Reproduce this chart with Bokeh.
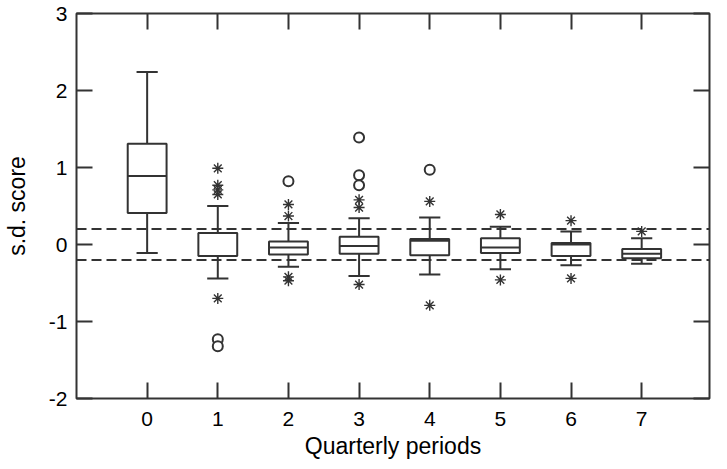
from bokeh.plotting import figure
from bokeh.models import LinearAxis, FixedTicker, Span, ColumnDataSource, Range1d, CustomJSTickFormatter
from bokeh.embed import file_html
from bokeh.resources import INLINE

# ---- data ----
periods = [0, 1, 2, 3, 4, 5, 6, 7]
lower_whisker = [-0.11, -0.44, -0.29, -0.41, -0.39, -0.32, -0.27, -0.25]
q1 = [0.41, -0.15, -0.13, -0.12, -0.14, -0.11, -0.15, -0.18]
median = [0.89, 0.15, -0.04, -0.02, 0.05, -0.04, 0.00, -0.12]
q3 = [1.31, 0.15, 0.04, 0.10, 0.07, 0.08, 0.02, -0.06]
upper_whisker = [2.24, 0.50, 0.28, 0.34, 0.35, 0.23, 0.17, 0.08]

star_period = [1, 1, 1, 1, 1, 2, 2, 2, 2, 3, 3, 3, 4, 4, 5, 5, 6, 6, 7]
star_value = [0.99, 0.77, 0.71, 0.65, -0.70, 0.52, 0.37, -0.42, -0.47,
              0.58, 0.48, -0.52, 0.56, -0.79, 0.39, -0.46, 0.31, -0.44, 0.17]
circle_period = [1, 1, 2, 3, 3, 3, 4]
circle_value = [-1.23, -1.32, 0.82, 1.39, 0.90, 0.77, 0.97]

reference_lines = [0.2, -0.2]
x_ticks = [0, 1, 2, 3, 4, 5, 6, 7]
y_ticks = [-2, -1, 0, 1, 2, 3]

BOX_W = 0.55
CAP_W = 0.3
INK = "#333333"
FONT = "Liberation Sans"

p = figure(width=711, height=461, output_backend="svg", toolbar_location=None,
           x_range=Range1d(-1.0, 7.96), y_range=Range1d(-2, 3),
           min_border_left=73, min_border_right=2, min_border_top=13, min_border_bottom=10)
p.background_fill_color = "white"
p.border_fill_color = "white"
p.outline_line_color = INK
p.outline_line_width = 2
p.grid.visible = False

src = ColumnDataSource(dict(
    x=periods, lw=lower_whisker, q1=q1, med=median, q3=q3, uw=upper_whisker,
    xl=[v - BOX_W / 2 for v in periods], xr=[v + BOX_W / 2 for v in periods],
    cl=[v - CAP_W / 2 for v in periods], cr=[v + CAP_W / 2 for v in periods],
))

for y in reference_lines:
    p.add_layout(Span(location=y, dimension="width", line_color=INK,
                      line_width=2, line_dash="10 5"))

# whiskers
p.segment(x0="x", y0="q3", x1="x", y1="uw", source=src, line_color=INK, line_width=2)
p.segment(x0="x", y0="q1", x1="x", y1="lw", source=src, line_color=INK, line_width=2)
p.segment(x0="cl", y0="uw", x1="cr", y1="uw", source=src, line_color=INK, line_width=2)
p.segment(x0="cl", y0="lw", x1="cr", y1="lw", source=src, line_color=INK, line_width=2)
# boxes
p.vbar(x="x", width=BOX_W, bottom="q1", top="q3", source=src,
       fill_color="white", line_color=INK, line_width=2)
p.segment(x0="xl", y0="med", x1="xr", y1="med", source=src, line_color=INK, line_width=2)

# outliers
p.scatter(star_period, star_value, marker="asterisk", size=11,
          line_color=INK, line_width=1.4)
p.scatter(circle_period, circle_value, marker="circle", size=10,
          fill_color="white", line_color=INK, line_width=2)

fmt = CustomJSTickFormatter(code="return String(tick);")

# axes
def style(ax, labels=True):
    ax.axis_line_color = None
    ax.major_tick_in = 16
    ax.major_tick_out = 0
    ax.minor_tick_line_color = None
    ax.major_tick_line_color = INK
    ax.major_tick_line_width = 2
    ax.major_label_text_font = FONT
    ax.major_label_text_font_size = "21px"
    ax.major_label_text_color = "black"
    ax.axis_label_text_font = FONT
    ax.axis_label_text_font_size = "23px"
    ax.axis_label_text_font_style = "normal"
    ax.axis_label_text_color = "black"
    ax.formatter = fmt
    if not labels:
        ax.major_label_overrides = {t: "" for t in ax.ticker.ticks}
        ax.major_label_standoff = 0

p.xaxis.ticker = FixedTicker(ticks=x_ticks)
p.yaxis.ticker = FixedTicker(ticks=y_ticks)
style(p.xaxis[0])
style(p.yaxis[0])
p.xaxis.axis_label = "Quarterly periods"
p.yaxis.axis_label = "s.d. score"
p.xaxis.major_label_standoff = 13
p.xaxis.axis_label_standoff = 4
p.yaxis.major_label_standoff = 9
p.yaxis.axis_label_standoff = 16

top = LinearAxis(ticker=FixedTicker(ticks=x_ticks))
style(top, labels=False)
p.add_layout(top, "above")
right = LinearAxis(ticker=FixedTicker(ticks=y_ticks))
style(right, labels=False)
p.add_layout(right, "right")

open("out.html", "w").write(file_html(p, INLINE))
